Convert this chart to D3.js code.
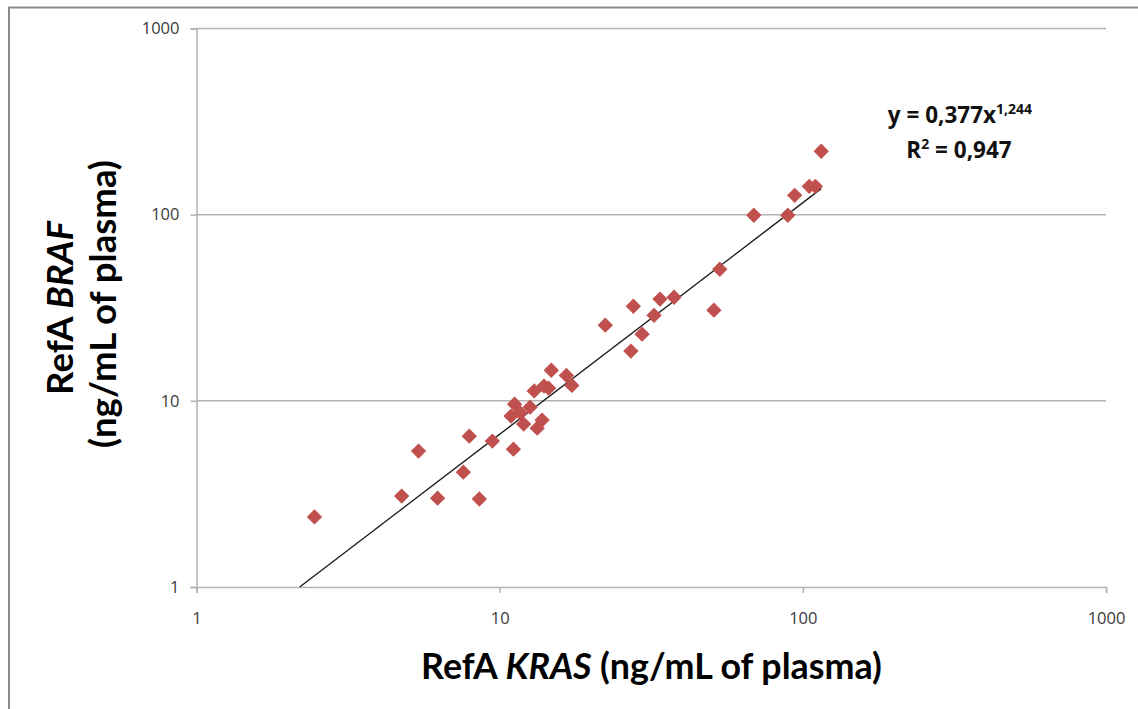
<!DOCTYPE html>
<html><head><meta charset="utf-8">
<script src="https://cdn.jsdelivr.net/npm/d3@7"></script>
<style>
html,body{margin:0;padding:0;background:#fff;}
svg{display:block;}
text{font-family:"Open Sans","Noto Sans",sans-serif;}
</style></head>
<body><svg id="chart" width="1138" height="709"></svg>
<script>
// Data: RefA KRAS (x) vs RefA BRAF (y), ng/mL of plasma
const kras = [2.45,4.75,5.40,6.24,7.59,7.94,8.57,9.46,11.1,11.2,10.9,11.7,12.0,12.6,13.0,13.3,13.8,14.0,14.5,14.8,16.6,17.3,22.3,27.1,27.6,29.5,32.3,33.8,37.6,50.9,53.2,68.9,89.2,94.0,105,110,115];
const braf = [2.38,3.08,5.37,3.00,4.14,6.46,2.97,6.08,5.50,9.60,8.28,8.60,7.50,9.25,11.3,7.13,7.88,12.0,11.7,14.6,13.7,12.1,25.5,18.5,32.2,22.8,28.8,35.2,36.0,30.7,50.9,99.3,99.3,127,142,142,219];
const tickValues = [1,10,100,1000];
const tickLabels = ["1","10","100","1000"];
const fitA = 0.377, fitB = 1.244;
const trendRange = [2.19,115];
const eqLine1 = "y = 0,377x", eqExp = "1,244";
const eqLine2a = "R", eqLine2sup = "2", eqLine2b = " = 0,947";

(function(){
const svg = d3.select("#chart");
const mL = 196.5, mR = 1106, mT = 28.5, mB = 587;
const x = d3.scaleLog().domain([1,1000]).range([mL,mR]);
const y = d3.scaleLog().domain([1,1000]).range([mB,mT]);
const titleFont = "Lato, 'Open Sans', sans-serif";

// frame
svg.append("path").attr("d",`M9,709 L9,7.5 L1138,7.5`).attr("fill","none")
  .attr("stroke","#8a8a8a").attr("stroke-width",2);

const gridColor = "#b3b3b3";
// gridlines
svg.append("g").selectAll("line").data(tickValues.slice(1)).join("line")
  .attr("x1",mL).attr("x2",mR).attr("y1",d=>y(d)).attr("y2",d=>y(d))
  .attr("stroke",gridColor).attr("stroke-width",1.5);

// y axis
const yAxis = d3.axisLeft(y).tickValues(tickValues).tickFormat((d,i)=>tickLabels[i]).tickSize(6).tickPadding(11);
const gy = svg.append("g").attr("transform",`translate(${mL},0)`).call(yAxis);
// x axis
const xAxis = d3.axisBottom(x).tickValues(tickValues).tickFormat((d,i)=>tickLabels[i]).tickSize(6).tickPadding(19);
const gx = svg.append("g").attr("transform",`translate(0,${mB})`).call(xAxis);
[gx,gy].forEach(g=>{
  g.select(".domain").attr("stroke",gridColor).attr("stroke-width",1.5);
  g.selectAll(".tick line").attr("stroke",gridColor).attr("stroke-width",1.5);
  g.selectAll(".tick text").attr("fill","#3a3a3a").style("font-size","16.5px").style("font-family","'Open Sans',sans-serif");
});

// trend line
const tl = trendRange.map(v=>[x(v), y(fitA*Math.pow(v,fitB))]);
svg.append("path").attr("d",d3.line()(tl)).attr("stroke","#1a1a1a").attr("stroke-width",1.3).attr("fill","none");

// points
const sym = d3.symbol().type(d3.symbolDiamond2).size(150);
svg.append("g").selectAll("path").data(kras.map((k,i)=>[k,braf[i]])).join("path")
  .attr("d",sym).attr("transform",d=>`translate(${x(d[0])},${y(d[1])})`)
  .attr("fill","#C0504D");

// equation
const eq = svg.append("text").attr("x",960).attr("y",123).attr("text-anchor","middle")
  .style("font-size","22.5px").style("font-weight","bold").attr("fill","#111");
eq.append("tspan").text(eqLine1);
eq.append("tspan").attr("dy",-9).style("font-size","14px").text(eqExp);
const r2 = svg.append("text").attr("x",959).attr("y",158).attr("text-anchor","middle")
  .style("font-size","22.5px").style("font-weight","bold").attr("fill","#111");
r2.append("tspan").text(eqLine2a);
r2.append("tspan").attr("dy",-9).style("font-size","14px").text(eqLine2sup);
r2.append("tspan").attr("dy",9).text(eqLine2b);

// fit a text element to target width by font size
function fit(t, target){
  const w = t.node().getComputedTextLength();
  const fs = parseFloat(t.style("font-size"));
  t.style("font-size", (fs*target/w).toFixed(2)+"px");
}

// x title
const xt = svg.append("text").attr("x",651.5).attr("y",679).attr("text-anchor","middle")
  .style("font-family",titleFont).style("font-size","30px").style("font-weight","bold").attr("fill","#000");
xt.append("tspan").text("RefA ");
xt.append("tspan").style("font-style","italic").text("KRAS");
xt.append("tspan").text(" (ng/mL of plasma)");
fit(xt, 461);

// y title
const yt = svg.append("g").attr("transform","translate(0,305) rotate(-90)");
const yt2 = yt.append("text").attr("x",1).attr("y",116).attr("text-anchor","middle")
  .style("font-family",titleFont).style("font-size","30px").style("font-weight","bold").attr("fill","#000").text("(ng/mL of plasma)");
fit(yt2, 288);
const yt1 = yt.append("text").attr("x",-3).attr("y",73).attr("text-anchor","middle")
  .style("font-family",titleFont).style("font-size",yt2.style("font-size")).style("font-weight","bold").attr("fill","#000");
yt1.append("tspan").text("RefA ");
yt1.append("tspan").style("font-style","italic").text("BRAF");
})();
</script></body></html>
